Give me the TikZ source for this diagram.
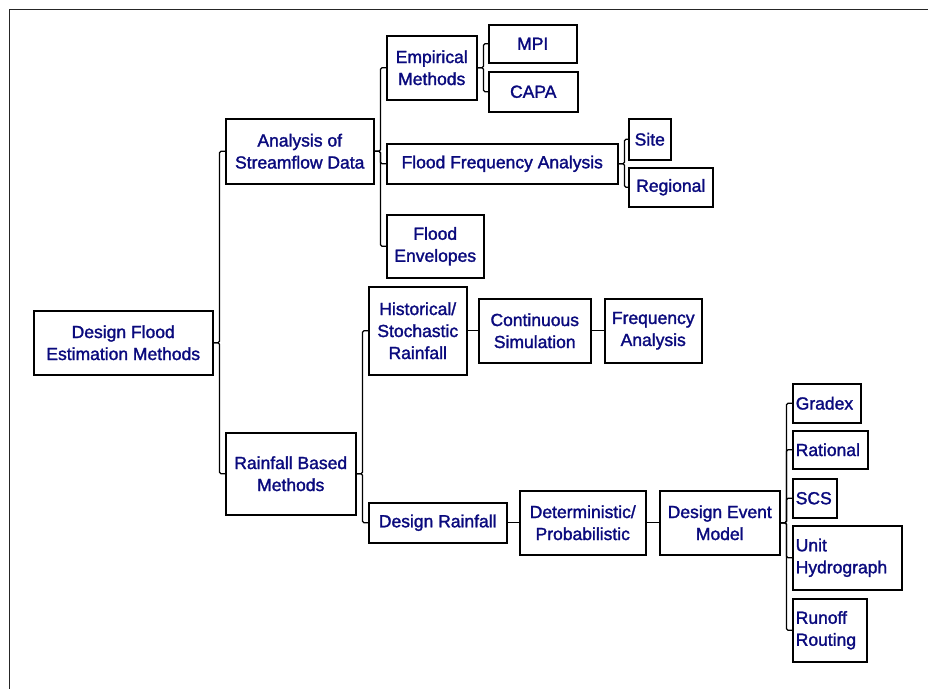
\documentclass[tikz,border=0pt]{standalone}
\usepackage{fontspec}
\newfontfamily\boxfont{Liberation Sans}[FakeBold=1.6]
\definecolor{navytext}{RGB}{10,10,125}

\begin{document}
\begin{tikzpicture}[x=1pt, y=-1pt, thick,
                    box node/.style={draw, line width=1.5pt, anchor=north west, align=center,
                                     inner sep=2pt, text=navytext,
                                     font=\boxfont\fontsize{17.5}{22}\selectfont},
                    left node/.style={box node, align=left, inner xsep=3pt},
                    link/.style={line width=1.3pt, rounded corners=1.5pt}]

  \useasboundingbox (0,0) rectangle (928,688);
  % Frame (right and bottom edges fall off the page)
  \draw[line width=1.6pt, black!85] (9.5,9.5) rectangle (940,700);

  % Root and first level
  \node[box node, minimum width=179, minimum height=64] (design) at (33,310) {Design Flood\\Estimation Methods};
  \node[box node, minimum width=148, minimum height=65] (stream) at (225,118) {Analysis of\\Streamflow Data};
  \node[box node, minimum width=130, minimum height=82] (rainbased) at (225,432) {Rainfall Based\\Methods};

  % Streamflow branch
  \node[box node, minimum width=90, minimum height=64] (empirical) at (386,35) {Empirical\\Methods};
  \node[box node, minimum width=88, minimum height=38] (mpi) at (488,24) {MPI};
  \node[box node, minimum width=89, minimum height=40] (capa) at (488,71) {CAPA};
  \node[box node, minimum width=231, minimum height=40] (ffa) at (386,143) {Flood Frequency Analysis};
  \node[box node, minimum width=42, minimum height=41] (site) at (628,118) {Site};
  \node[box node, minimum width=84, minimum height=39] (regional) at (628,167) {Regional};
  \node[box node, minimum width=97, minimum height=63] (envelopes) at (386,214) {Flood\\Envelopes};

  % Rainfall branch
  \node[box node, minimum width=98, minimum height=88] (historical) at (368,286) {Historical/\\Stochastic\\Rainfall};
  \node[box node, minimum width=112, minimum height=64] (continuous) at (478,298) {Continuous\\Simulation};
  \node[box node, minimum width=97, minimum height=64] (freqan) at (604,298) {Frequency\\Analysis};
  \node[box node, minimum width=138, minimum height=40] (designrain) at (368,502) {Design Rainfall};
  \node[box node, minimum width=126, minimum height=64] (detprob) at (519,490) {Deterministic/\\Probabilistic};
  \node[box node, minimum width=120, minimum height=64] (event) at (659,490) {Design Event\\Model};

  % Event models (text left aligned)
  \node[left node, text width=62, minimum height=39] (gradex) at (792,383) {Gradex};
  \node[left node, text width=69, minimum height=38] (rational) at (792,430) {Rational};
  \node[left node, text width=38, minimum height=39] (scs) at (792,478) {SCS};
  \node[left node, text width=103, minimum height=64] (unit) at (792,525) {Unit\\Hydrograph};
  \node[left node, text width=68, minimum height=63] (runoff) at (792,598) {Runoff\\Routing};

  \begin{scope}[link]
    % Elbow connectors: out of the parent, down the trunk, into the child
    \draw (design.east) -- ++(6,0) |- (stream.west);
    \draw (design.east) -- ++(6,0) |- (rainbased.west);

    \draw (stream.east) -- ++(6,0) |- (empirical.west);
    \draw (stream.east) -- ++(6,0) |- (ffa.west);
    \draw (stream.east) -- ++(6,0) |- (envelopes.west);

    \draw (empirical.east) -- ++(6,0) |- (mpi.west);
    \draw (empirical.east) -- ++(6,0) |- (capa.west);

    \draw (ffa.east) -- ++(6,0) |- (site.west);
    \draw (ffa.east) -- ++(6,0) |- (regional.west);

    \draw (rainbased.east) -- ++(6,0) |- (historical.west);
    \draw (rainbased.east) -- ++(6,0) |- (designrain.west);

    \draw (event.east) -- ++(6,0) |- (gradex.west);
    \draw (event.east) -- ++(6,0) |- (rational.west);
    \draw (event.east) -- ++(6,0) |- (scs.west);
    \draw (event.east) -- ++(6,0) |- (unit.west);
    \draw (event.east) -- ++(6,0) |- (runoff.west);

    % Chains
    \draw (historical.east) -- (continuous.west);
    \draw (continuous.east) -- (freqan.west);
    \draw (designrain.east) -- (detprob.west);
    \draw (detprob.east) -- (event.west);
  \end{scope}

\end{tikzpicture}
\end{document}
